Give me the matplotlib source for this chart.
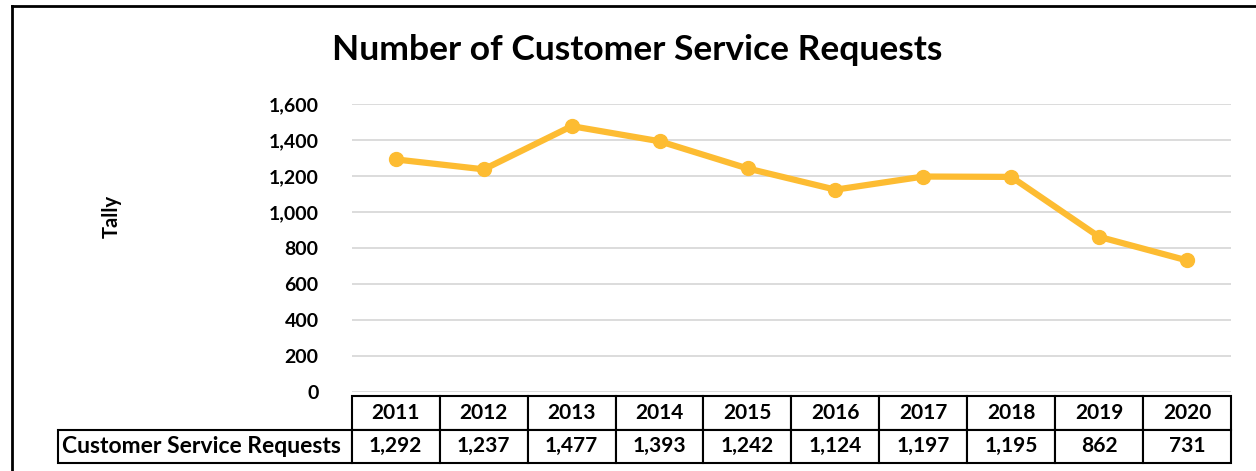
import matplotlib.pyplot as plt
from matplotlib.lines import Line2D

# data
years = ['2011', '2012', '2013', '2014', '2015', '2016', '2017', '2018', '2019', '2020']
requests = [1292, 1237, 1477, 1393, 1242, 1124, 1197, 1195, 862, 731]
series_name = 'Customer Service Requests'
yticks = [0, 200, 400, 600, 800, 1000, 1200, 1400, 1600]

plt.rcParams['font.family'] = ['Lato', 'DejaVu Sans']

W, H = 1256, 471
fig = plt.figure(figsize=(W / 100, H / 100), dpi=100)

# axes in pixel terms
left, right, top, bottom = 352, 1231, 104, 392
ax = fig.add_axes([left / W, 1 - bottom / H, (right - left) / W, (bottom - top) / H])

x = list(range(len(years)))
ax.plot(x, requests, color='#FDBC32', lw=4.5, marker='o', ms=10, zorder=3,
        solid_capstyle='round')
ax.set_xlim(-0.5, len(years) - 0.5)
ax.set_ylim(0, 1600)
ax.set_yticks(yticks)
ax.set_yticklabels([f'{v:,}' for v in yticks], fontsize=14, fontweight='bold')
ax.set_xticks([])
ax.tick_params(axis='y', length=0, pad=24)
ax.grid(axis='y', color='#D9D9D9', lw=1.3)
ax.set_axisbelow(True)
for s in ax.spines.values():
    s.set_visible(False)

ax.set_ylabel('Tally', fontsize=14.5, fontweight='bold', labelpad=0)
ax.yaxis.set_label_coords((122 - left) / (right - left), 0.61)

# data table under the axes (first column holds the series name)
tbl_left, tbl_top, tbl_bot = 58, 396, 463
label_w, col_w = 294, 88
tb = ax.table(cellText=[[series_name] + [f'{v:,}' for v in requests]],
              colLabels=[''] + years,
              cellLoc='center',
              colWidths=[label_w] + [col_w] * len(years),
              bbox=[(tbl_left - left) / (right - left),
                    (bottom - tbl_bot) / (bottom - top),
                    (right - tbl_left) / (right - left),
                    (tbl_bot - tbl_top) / (bottom - top)])
tb.auto_set_font_size(False)
for (r, c), cell in tb.get_celld().items():
    cell.set_linewidth(1.5)
    cell.set_edgecolor('black')
    txt = cell.get_text()
    txt.set_fontweight('bold')
    txt.set_fontsize(15)
    if c == 0:
        if r == 0:
            cell.visible_edges = ''
        else:
            cell._loc = 'left'
            txt.set_ha('left')
            cell.PAD = 0.012
            txt.set_fontsize(16.5)

fig.text(637 / W, 1 - 50 / H, 'Number of Customer Service Requests',
         ha='center', va='center', fontsize=25.5, fontweight='bold')

# outer frame (top and left edges)
fig.add_artist(Line2D([12 / W, 1], [1 - 6 / H, 1 - 6 / H], color='black', lw=2))
fig.add_artist(Line2D([12 / W, 12 / W], [0, 1 - 6 / H], color='black', lw=2))

fig.savefig('out.png', dpi=100)
